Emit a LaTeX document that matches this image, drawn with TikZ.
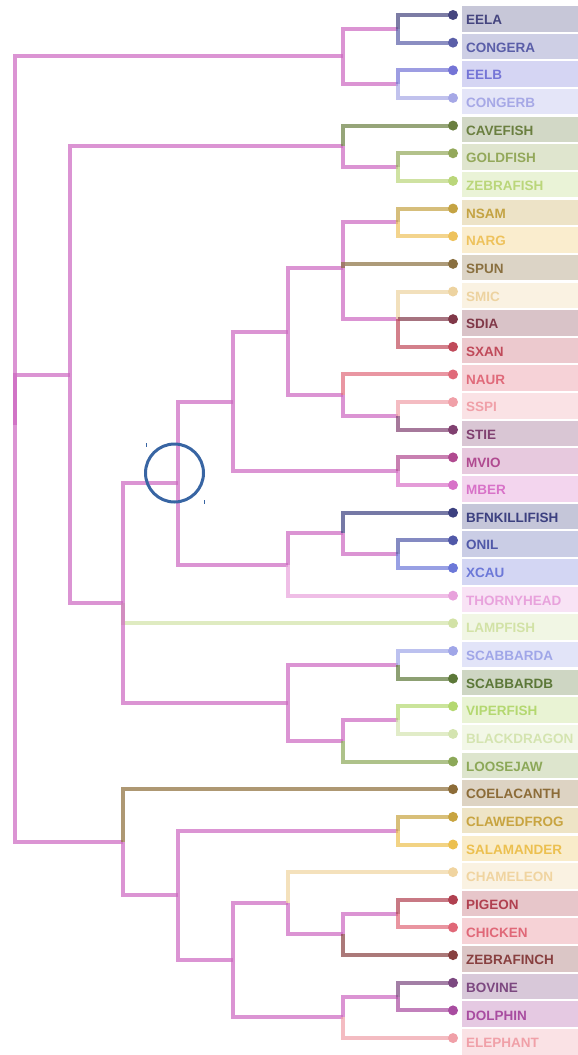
\documentclass[tikz,border=0pt]{standalone}
\usepackage{fontspec}
\setmainfont{Liberation Sans}
\definecolor{cEELA}{HTML}{45457F}
\definecolor{cCONGERA}{HTML}{5A5EA8}
\definecolor{cEELB}{HTML}{7474D6}
\definecolor{cCONGERB}{HTML}{A6A8E6}
\definecolor{cCAVEFISH}{HTML}{6A7F40}
\definecolor{cGOLDFISH}{HTML}{93A85A}
\definecolor{cZEBRAFISH}{HTML}{BAD67A}
\definecolor{cNSAM}{HTML}{C4A343}
\definecolor{cNARG}{HTML}{EEC25C}
\definecolor{cSPUN}{HTML}{8A7040}
\definecolor{cSMIC}{HTML}{EDD3A0}
\definecolor{cSDIA}{HTML}{803848}
\definecolor{cSXAN}{HTML}{C04A5A}
\definecolor{cNAUR}{HTML}{E06A7A}
\definecolor{cSSPI}{HTML}{F0A0A8}
\definecolor{cSTIE}{HTML}{804070}
\definecolor{cMVIO}{HTML}{B04A90}
\definecolor{cMBER}{HTML}{D872C8}
\definecolor{cBFNKILLIFISH}{HTML}{3C4080}
\definecolor{cONIL}{HTML}{5058A8}
\definecolor{cXCAU}{HTML}{6C78D8}
\definecolor{cTHORNYHEAD}{HTML}{E8A2DC}
\definecolor{cLAMPFISH}{HTML}{D2E2A6}
\definecolor{cSCABBARDA}{HTML}{A0A6E8}
\definecolor{cSCABBARDB}{HTML}{5C7838}
\definecolor{cVIPERFISH}{HTML}{B4D870}
\definecolor{cBLACKDRAGON}{HTML}{D4E4B0}
\definecolor{cLOOSEJAW}{HTML}{8CA858}
\definecolor{cCOELACANTH}{HTML}{8C6C38}
\definecolor{cCLAWEDFROG}{HTML}{C8A440}
\definecolor{cSALAMANDER}{HTML}{ECC050}
\definecolor{cCHAMELEON}{HTML}{F0D4A0}
\definecolor{cPIGEON}{HTML}{B04050}
\definecolor{cCHICKEN}{HTML}{E06878}
\definecolor{cZEBRAFINCH}{HTML}{884040}
\definecolor{cBOVINE}{HTML}{7C4880}
\definecolor{cDOLPHIN}{HTML}{A84CA0}
\definecolor{cELEPHANT}{HTML}{F0A0A8}
\definecolor{inner}{HTML}{CC66C0}
\definecolor{selblue}{HTML}{3865A3}
\newcommand{\ry}[1]{15+27.65*(#1)}
\newcommand{\br}[3]{\draw[branch,#3] (#1) |- (#2);}
\begin{document}
\begin{tikzpicture}[x=1pt,y=-1pt,
  branch/.style={line width=4pt,draw opacity=0.7},
  leafdot/.style={circle,inner sep=0pt,minimum size=10pt},
  lab/.style={font=\bfseries\fontsize{13.5}{14}\selectfont,inner sep=0pt}]
\useasboundingbox (0,0) rectangle (578,1055);
% leaf positions
\foreach \i/\nm in {0/EELA,1/CONGERA,2/EELB,3/CONGERB,4/CAVEFISH,5/GOLDFISH,6/ZEBRAFISH,7/NSAM,8/NARG,9/SPUN,10/SMIC,11/SDIA,12/SXAN,13/NAUR,14/SSPI,15/STIE,16/MVIO,17/MBER,18/BFNKILLIFISH,19/ONIL,20/XCAU,21/THORNYHEAD,22/LAMPFISH,23/SCABBARDA,24/SCABBARDB,25/VIPERFISH,26/BLACKDRAGON,27/LOOSEJAW,28/COELACANTH,29/CLAWEDFROG,30/SALAMANDER,31/CHAMELEON,32/PIGEON,33/CHICKEN,34/ZEBRAFINCH,35/BOVINE,36/DOLPHIN,37/ELEPHANT}{
  \coordinate (L\i) at (453,{\ry{\i}});
  \fill[c\nm!30] (462,{\ry{\i}-9}) rectangle (578,{\ry{\i}+16.5});
  \node[lab,text=c\nm,anchor=base west] (T\i) at (466,{\ry{\i}+9.6}) {\nm};
}
% internal nodes
\coordinate (R) at (15,{\ry{14.8102}});
\coordinate (A) at (343,{\ry{1.5}});
\coordinate (A1) at (398,{\ry{0.5}});
\coordinate (A2) at (398,{\ry{2.5}});
\coordinate (B) at (70,{\ry{13.0087}});
\coordinate (B1) at (343,{\ry{4.75}});
\coordinate (B1b) at (398,{\ry{5.5}});
\coordinate (B2) at (123,{\ry{21.2674}});
\coordinate (N721) at (178,{\ry{16.9271}});
\coordinate (N717) at (233,{\ry{13.9792}});
\coordinate (N715) at (288,{\ry{11.4583}});
\coordinate (N712) at (343,{\ry{9.1667}});
\coordinate (N78) at (398,{\ry{7.5}});
\coordinate (N1012) at (398,{\ry{11}});
\coordinate (N1315) at (343,{\ry{13.75}});
\coordinate (N1415) at (398,{\ry{14.5}});
\coordinate (N1617) at (398,{\ry{16.5}});
\coordinate (N1821) at (288,{\ry{19.875}});
\coordinate (N1820) at (343,{\ry{18.75}});
\coordinate (N1920) at (398,{\ry{19.5}});
\coordinate (N2327) at (288,{\ry{24.875}});
\coordinate (N2324) at (398,{\ry{23.5}});
\coordinate (N2527) at (343,{\ry{26.25}});
\coordinate (N2526) at (398,{\ry{25.5}});
\coordinate (C) at (123,{\ry{29.921875}});
\coordinate (N2937) at (178,{\ry{31.84375}});
\coordinate (N2930) at (398,{\ry{29.5}});
\coordinate (N3137) at (233,{\ry{34.1875}});
\coordinate (N3134) at (288,{\ry{32.125}});
\coordinate (N3234) at (343,{\ry{33.25}});
\coordinate (N3233) at (398,{\ry{32.5}});
\coordinate (N3537) at (343,{\ry{36.25}});
\coordinate (N3536) at (398,{\ry{35.5}});
% branches
\br{R}{A}{inner}\br{R}{B}{inner}\br{R}{C}{inner}
\br{A}{A1}{inner}\br{A}{A2}{inner}
\br{A1}{L0}{cEELA}\br{A1}{L1}{cCONGERA}
\br{A2}{L2}{cEELB}\br{A2}{L3}{cCONGERB}
\br{B}{B1}{inner}\br{B}{B2}{inner}
\br{B1}{L4}{cCAVEFISH}\br{B1}{B1b}{inner}
\br{B1b}{L5}{cGOLDFISH}\br{B1b}{L6}{cZEBRAFISH}
\br{B2}{N721}{inner}\br{B2}{L22}{cLAMPFISH}\br{B2}{N2327}{inner}
\br{N721}{N717}{inner}\br{N721}{N1821}{inner}
\br{N717}{N715}{inner}\br{N717}{N1617}{inner}
\br{N715}{N712}{inner}\br{N715}{N1315}{inner}
\br{N712}{N78}{inner}\br{N712}{L9}{cSPUN}\br{N712}{N1012}{inner}
\br{N78}{L7}{cNSAM}\br{N78}{L8}{cNARG}
\br{N1012}{L10}{cSMIC}\br{N1012}{L11}{cSDIA}\br{N1012}{L12}{cSXAN}
\br{N1315}{L13}{cNAUR}\br{N1315}{N1415}{inner}
\br{N1415}{L14}{cSSPI}\br{N1415}{L15}{cSTIE}
\br{N1617}{L16}{cMVIO}\br{N1617}{L17}{cMBER}
\br{N1821}{N1820}{inner}\br{N1821}{L21}{cTHORNYHEAD}
\br{N1820}{L18}{cBFNKILLIFISH}\br{N1820}{N1920}{inner}
\br{N1920}{L19}{cONIL}\br{N1920}{L20}{cXCAU}
\br{N2327}{N2324}{inner}\br{N2327}{N2527}{inner}
\br{N2324}{L23}{cSCABBARDA}\br{N2324}{L24}{cSCABBARDB}
\br{N2527}{N2526}{inner}\br{N2527}{L27}{cLOOSEJAW}
\br{N2526}{L25}{cVIPERFISH}\br{N2526}{L26}{cBLACKDRAGON}
\br{C}{L28}{cCOELACANTH}\br{C}{N2937}{inner}
\br{N2937}{N2930}{inner}\br{N2937}{N3137}{inner}
\br{N2930}{L29}{cCLAWEDFROG}\br{N2930}{L30}{cSALAMANDER}
\br{N3137}{N3134}{inner}\br{N3137}{N3537}{inner}
\br{N3134}{L31}{cCHAMELEON}\br{N3134}{N3234}{inner}
\br{N3234}{N3233}{inner}\br{N3234}{L34}{cZEBRAFINCH}
\br{N3233}{L32}{cPIGEON}\br{N3233}{L33}{cCHICKEN}
\br{N3537}{N3536}{inner}\br{N3537}{L37}{cELEPHANT}
\br{N3536}{L35}{cBOVINE}\br{N3536}{L36}{cDOLPHIN}
% leaf dots
\foreach \i/\nm in {0/EELA,1/CONGERA,2/EELB,3/CONGERB,4/CAVEFISH,5/GOLDFISH,6/ZEBRAFISH,7/NSAM,8/NARG,9/SPUN,10/SMIC,11/SDIA,12/SXAN,13/NAUR,14/SSPI,15/STIE,16/MVIO,17/MBER,18/BFNKILLIFISH,19/ONIL,20/XCAU,21/THORNYHEAD,22/LAMPFISH,23/SCABBARDA,24/SCABBARDB,25/VIPERFISH,26/BLACKDRAGON,27/LOOSEJAW,28/COELACANTH,29/CLAWEDFROG,30/SALAMANDER,31/CHAMELEON,32/PIGEON,33/CHICKEN,34/ZEBRAFINCH,35/BOVINE,36/DOLPHIN,37/ELEPHANT}{
  \node[leafdot,fill=c\nm] (D\i) at (L\i) {};
}
% selection marker
\coordinate (S) at (174.5,473);
\draw[selblue,line width=3pt] (S) circle[radius=29];
\coordinate (S1) at (146.5,443);
\coordinate (S2) at (204,500);
\draw[selblue,line width=1pt] (S1) -- ++(0,4);
\draw[selblue,line width=1pt] (S2) -- ++(0,4);
\end{tikzpicture}
\end{document}
